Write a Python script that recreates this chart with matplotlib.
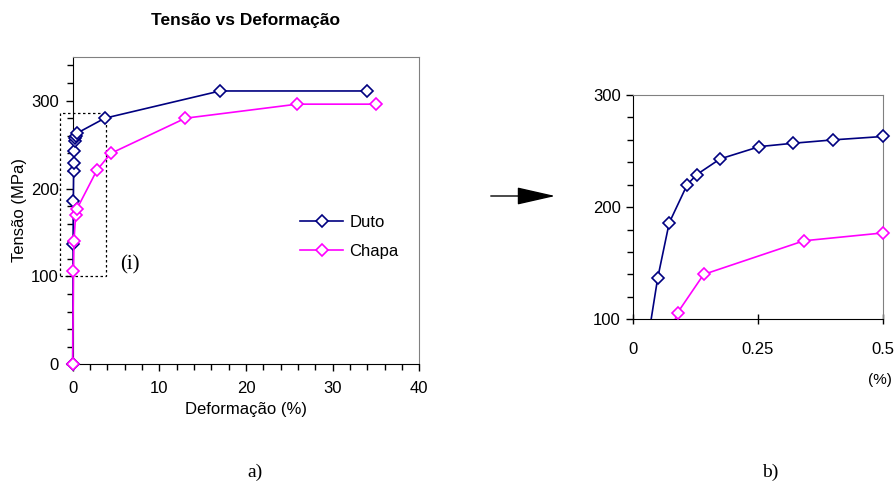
import matplotlib
matplotlib.use("Agg")
import matplotlib.pyplot as plt
import numpy as np
from matplotlib.ticker import MultipleLocator
from matplotlib.patches import Rectangle, FancyArrowPatch

duto_x = [0, 0.049, 0.072, 0.108, 0.127, 0.174, 0.253, 0.321, 0.401, 0.5, 3.7, 17.0, 34.0]
duto_y = [0, 137, 186, 220, 229, 243, 254, 257, 260, 263, 280, 311, 311]
chapa_x = [0, 0.089, 0.141, 0.342, 0.5, 2.8, 4.4, 13.0, 25.9, 35.0]
chapa_y = [0, 106, 140, 170, 177, 221, 240, 280, 296, 296]

series = [("Duto", duto_x, duto_y, "#000080"), ("Chapa", chapa_x, chapa_y, "#FF00FF")]

plt.rcParams['font.family'] = ['Liberation Sans', 'DejaVu Sans']
fig = plt.figure(figsize=(8.95, 4.83), dpi=100)

W, H = 895, 483
def rect(x0, y0, x1, y1):
    return [x0 / W, 1 - y1 / H, (x1 - x0) / W, (y1 - y0) / H]

ax = fig.add_axes(rect(72.7, 56.7, 419.3, 364.3))
ax2 = fig.add_axes(rect(633.3, 95, 882.7, 319.3))

for name, xs, ys, c in series:
    ax.plot(xs, ys, color=c, lw=1.2, marker='D', ms=6.5, mfc='white', mec=c,
            mew=1.2, label=name, clip_on=False, zorder=3)

ax.set_xlim(0, 40)
ax.set_ylim(0, 350)
ax.xaxis.set_major_locator(MultipleLocator(10))
ax.xaxis.set_minor_locator(MultipleLocator(2))
ax.yaxis.set_minor_locator(MultipleLocator(20))
ax.set_yticks([0, 100, 200, 300])
ax.tick_params(which='major', direction='out', length=5, width=1, labelsize=12)
ax.tick_params(axis='x', which='major', pad=7)
ax.tick_params(axis='y', which='major', pad=5)
ax.tick_params(which='minor', direction='out', length=4, width=1)
for s in ['top', 'right']:
    ax.spines[s].set_color('#808080')
for s in ['left', 'bottom']:
    ax.spines[s].set_color('black')
ax.set_ylabel("Tensão (MPa)", fontsize=12, labelpad=2.5)
ax.set_xlabel("Deformação (%)", fontsize=12, labelpad=4)

fig.text(246 / W, 1 - 21 / H, "Tensão vs Deformação", fontsize=12.5, fontweight='bold',
         ha='center', va='center')

ax.legend(loc='center left', bbox_to_anchor=(0.656, 0.414), frameon=False,
          fontsize=12, handlelength=2.6, handletextpad=0.36, labelspacing=0.8,
          borderpad=0, borderaxespad=0)

ax.add_patch(Rectangle((-1.5, 100), 5.4, 186, fill=False, ls=(0, (2, 2)),
                       lw=0.9, ec='black', clip_on=False, zorder=2))
ax.text(6.6, 113, "(i)", fontsize=15, family=['Liberation Serif', 'DejaVu Serif'],
        ha='center', va='center')

# Right (zoomed) chart
xl, yl = (0, 0.5), (100, 300)
for name, xs, ys, c in series:
    xs_a, ys_a = np.array(xs), np.array(ys)
    ax2.plot(xs_a, ys_a, color=c, lw=1.2, zorder=3)
    m = (xs_a >= xl[0]) & (xs_a <= xl[1]) & (ys_a >= yl[0]) & (ys_a <= yl[1])
    ax2.plot(xs_a[m], ys_a[m], ls='none', marker='D', ms=6.5, mfc='white', mec=c,
             mew=1.2, clip_on=False, zorder=4)
ax2.set_xlim(*xl)
ax2.set_ylim(*yl)
ax2.set_xticks([0, 0.25, 0.5])
ax2.set_xticklabels(["0", "0.25", "0.5"])
ax2.set_yticks([100, 200, 300])
ax2.yaxis.set_minor_locator(MultipleLocator(20))
ax2.tick_params(axis='x', which='major', direction='inout', length=7, width=1, labelsize=12, pad=13)
ax2.tick_params(axis='y', which='major', direction='out', length=5, width=1, labelsize=12, pad=4)
ax2.tick_params(axis='y', which='minor', direction='out', length=4, width=1)
for s in ['top', 'right']:
    ax2.spines[s].set_color('#808080')
for s in ['left', 'bottom']:
    ax2.spines[s].set_color('black')

fig.text(880 / W, 1 - 380 / H, "(%)", fontsize=11, ha='center', va='center')

fig.text(255 / W, 1 - 472 / H, "a)", fontsize=14, family=['Liberation Serif', 'DejaVu Serif'],
         ha='center', va='center')
fig.text(770 / W, 1 - 472 / H, "b)", fontsize=14, family=['Liberation Serif', 'DejaVu Serif'],
         ha='center', va='center')

fig.patches.append(FancyArrowPatch(
    (488 / W, 1 - 196 / H), (558 / W, 1 - 196 / H), transform=fig.transFigure,
    arrowstyle='-|>,head_length=1.1,head_width=0.25', mutation_scale=22,
    color='black', lw=1.0))

fig.savefig("out.png", dpi=100)
